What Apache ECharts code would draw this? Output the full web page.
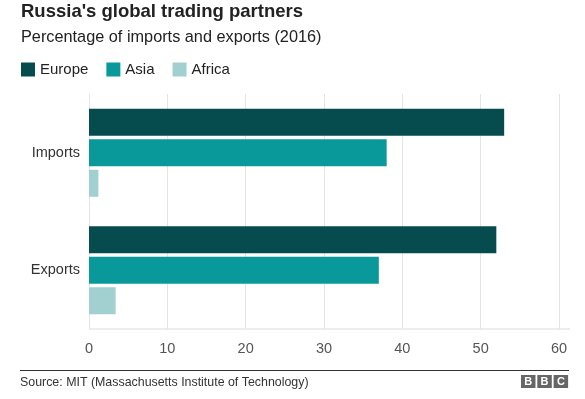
<!DOCTYPE html>
<html>
<head>
<meta charset="utf-8">
<script src="https://cdn.jsdelivr.net/npm/echarts@6/dist/echarts.min.js"></script>
<style>
  html, body { margin: 0; padding: 0; background: #fff; }
  #chart { width: 585px; height: 399px; }
</style>
</head>
<body>
<div id="chart"></div>
<script>
// Data
const categories = ['Imports', 'Exports'];
const seriesNames = ['Europe', 'Asia', 'Africa'];
const europe = [53, 52];
const asia = [38, 37];
const africa = [1.2, 3.4];
const xTicks = [0, 10, 20, 30, 40, 50, 60];

const colors = { Europe: '#064b4d', Asia: '#09999a', Africa: '#a2cfcf' };
const font = '"Liberation Sans", Arial, Helvetica, sans-serif';

const chart = echarts.init(document.getElementById('chart'), null, { renderer: 'canvas' });

const values = { Europe: europe, Asia: asia, Africa: africa };

chart.setOption({
  animation: false,
  backgroundColor: '#fff',
  textStyle: { fontFamily: font },
  title: [
    { text: "Russia's global trading partners", left: 21, top: 2, padding: 0,
      textStyle: { fontSize: 18.5, fontWeight: 'bold', color: '#222', fontFamily: font } },
    { text: 'Percentage of imports and exports (2016)', left: 21, top: 30, padding: 0,
      textStyle: { fontSize: 16.3, fontWeight: 'normal', color: '#222', fontFamily: font } },
    { text: 'Source: MIT (Massachusetts Institute of Technology)', left: 20, top: 377, padding: 0,
      textStyle: { fontSize: 12.4, fontWeight: 'normal', color: '#333', fontFamily: font } },
  ],
  legend: {
    left: 21, top: 62, padding: 0,
    icon: 'rect', itemWidth: 14, itemHeight: 14, itemGap: 18,
    textStyle: { fontSize: 15, color: '#222', fontFamily: font },
    data: seriesNames,
  },
  grid: { left: 89, right: 26, top: 94, bottom: 70 },
  xAxis: {
    type: 'value', min: 0, max: 60, interval: 10,
    axisLine: { show: false },
    axisTick: { show: false },
    splitLine: { lineStyle: { color: '#e4e4e4' } },
    axisLabel: { fontSize: 14.5, color: '#555', margin: 12, fontFamily: font,
      formatter: (v) => xTicks.includes(v) ? String(v) : '' },
  },
  yAxis: {
    type: 'category', data: categories, inverse: true,
    axisLine: { show: true, onZero: false, lineStyle: { color: '#e4e4e4' } },
    axisTick: { show: false },
    axisLabel: { fontSize: 14.5, color: '#333', margin: 9, fontFamily: font },
  },
  series: seriesNames.map((name) => ({
    name, type: 'bar', data: values[name],
    barWidth: 27, barGap: '13%',
    itemStyle: { color: colors[name] },
  })),
  graphic: [
    { type: 'rect', shape: { x: 89, y: 328.5, width: 481, height: 1 }, style: { fill: '#dcdcdc' }, z: 0 },
    { type: 'rect', shape: { x: 20, y: 370, width: 549, height: 1 }, style: { fill: '#333' } },
    ...['B', 'B', 'C'].map((ch, i) => ({
      type: 'group', left: 521 + i * 16.3, top: 375,
      children: [
        { type: 'rect', shape: { x: 0, y: 0, width: 14.5, height: 13 }, style: { fill: '#666' } },
        { type: 'text', x: 7.25, y: 7, style: { text: ch, fill: '#fff', font: 'bold 11px ' + font,
          textAlign: 'center', textVerticalAlign: 'middle' } },
      ],
    })),
  ],
});
</script>
</body>
</html>
